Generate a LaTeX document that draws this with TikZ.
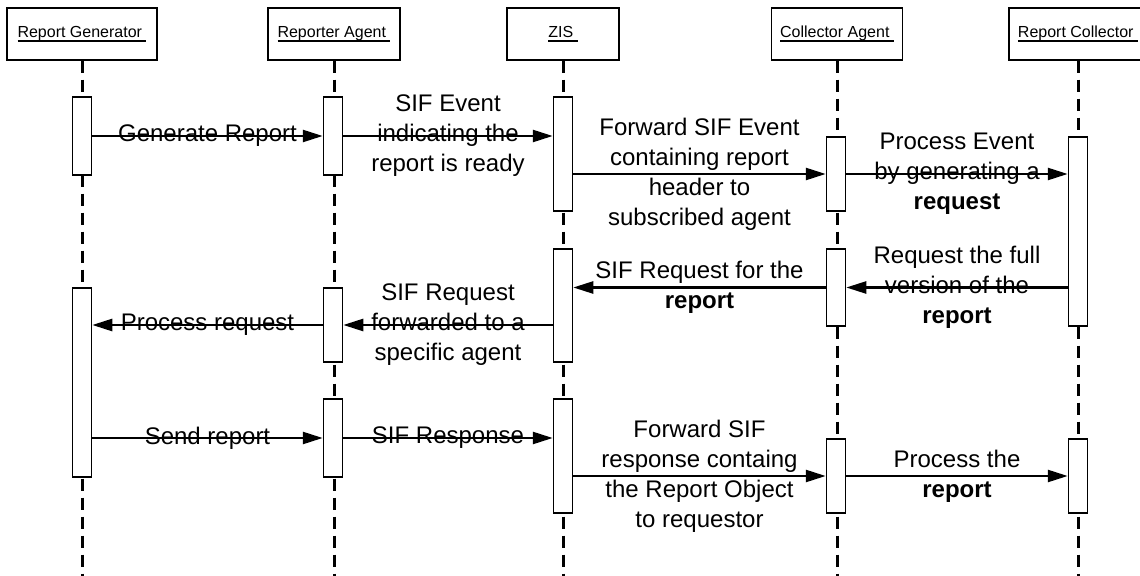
\documentclass[tikz,border=0pt]{standalone}
\usepackage{fontspec}
\setmainfont{Liberation Sans}
\usetikzlibrary{arrows.meta}
\newsavebox\headbox
\newcommand{\headname}[1]{\sbox\headbox{#1\ }\rlap{\rule[-2.25pt]{\wd\headbox}{1pt}}\usebox\headbox}

\begin{document}
\begin{tikzpicture}[%
    x=0.5pt,y=-0.5pt,
    head/.style={draw,line width=0.75pt,minimum height=26pt,inner sep=0pt,
      font=\fontsize{8}{9}\selectfont},
    act/.style={draw,fill=white,line width=0.75pt,minimum width=9.5pt,inner sep=0pt},
    life/.style={line width=1.5pt,dash pattern=on 6pt off 3.5pt},
    msg/.style={-{Triangle[length=10pt,width=6pt]},line width=1.25pt},
    lbl/.style={align=center,font=\fontsize{12}{15}\selectfont}
  ]
    \useasboundingbox (0,0) rectangle (1140,576);
    \coordinate (bottom) at (0,580);

    % objects
    \node[head, minimum width=75pt] (rg)  at (82,34)   {\headname{Report Generator}};
    \node[head, minimum width=66pt] (ra)  at (334,34)  {\headname{Reporter Agent}};
    \node[head, minimum width=56pt] (zis) at (563,34)  {\headname{ZIS}};
    \node[head, minimum width=65.5pt] (ca) at (837,34) {\headname{Collector Agent}};
    \node[head, minimum width=69pt] (rc)  at (1078,34) {\headname{Report Collector}};

    \foreach \n in {rg,ra,zis,ca,rc}
      \draw[life] (\n.south) -- (\n.south |- bottom);

    % activations
    \node[act, minimum height=39pt]   (rg1)  at (82,136)    {};
    \node[act, minimum height=94.5pt] (rg2)  at (82,382.5)  {};
    \node[act, minimum height=39pt]   (ra1)  at (333,136)   {};
    \node[act, minimum height=37pt]   (ra2)  at (333,325)   {};
    \node[act, minimum height=39pt]   (ra3)  at (333,438)   {};
    \node[act, minimum height=57pt]   (zis1) at (563,154)   {};
    \node[act, minimum height=56.5pt] (zis2) at (563,305.5) {};
    \node[act, minimum height=57pt]   (zis3) at (563,456)   {};
    \node[act, minimum height=37pt]   (ca1)  at (836,174)   {};
    \node[act, minimum height=38.5pt] (ca2)  at (836,287.5) {};
    \node[act, minimum height=37pt]   (ca3)  at (836,476)   {};
    \node[act, minimum height=94.5pt] (rc1)  at (1078,231.5) {};
    \node[act, minimum height=37pt]   (rc2)  at (1078,476)  {};

    % messages
    \path[msg]
      (rg1.east) edge node[lbl] {Generate Report} (ra1.west)
      (ra1.east) edge node[lbl] {SIF Event\\indicating the\\report is ready} (ra1.east -| zis1.west)
      (zis1.east |- ca1) edge node[lbl] {Forward SIF Event\\containing report\\header to\\subscribed agent} (ca1.west)
      (ca1.east) edge node[lbl] {Process Event\\by generating a\\\textbf{request}} (ca1.east -| rc1.west)
      (rc1.west |- ca2) edge node[lbl] {Request the full\\version of the\\\textbf{report}} (ca2.east)
      (ca2.west) edge node[lbl] {SIF Request for the\\\textbf{report}} (ca2.west -| zis2.east)
      (zis2.west |- ra2) edge node[lbl] {SIF Request\\forwarded to a\\specific agent} (ra2.east)
      (ra2.west) edge node[lbl] {Process request} (ra2.west -| rg2.east)
      (rg2.east |- ra3) edge node[lbl] {Send report} (ra3.west)
      (ra3.east) edge node[lbl] {SIF Response} (ra3.east -| zis3.west)
      (zis3.east |- ca3) edge node[lbl] {Forward SIF\\response containg\\the Report Object\\to requestor} (ca3.west)
      (ca3.east) edge node[lbl] {Process the\\\textbf{report}} (rc2.west);
\end{tikzpicture}
\end{document}
